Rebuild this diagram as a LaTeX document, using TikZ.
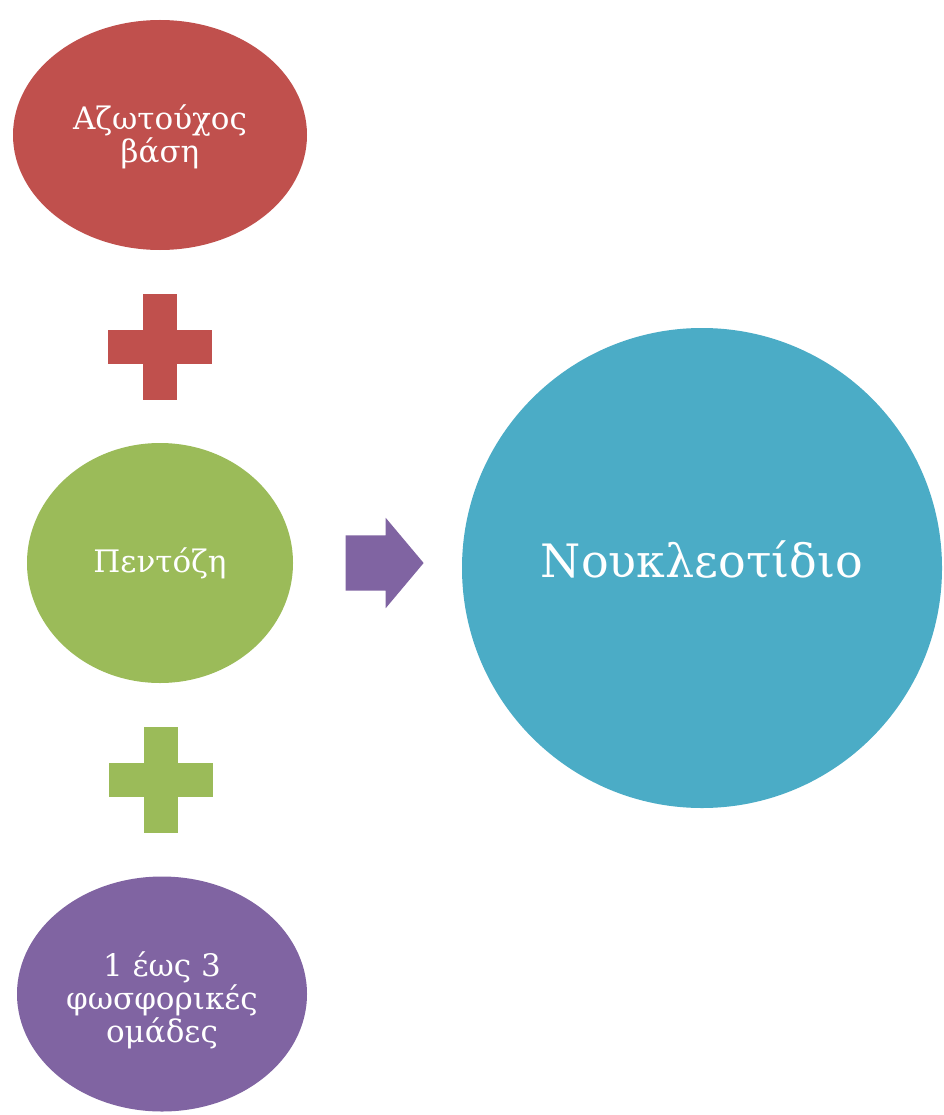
\documentclass[tikz,border=0pt]{standalone}
\usepackage{fontspec}
\setmainfont{DejaVu Serif}
\usepackage{tikz}
\usetikzlibrary{shapes.geometric,shapes.arrows,calc}

\definecolor{basered}{HTML}{C0504D}
\definecolor{sugargreen}{HTML}{9BBB59}
\definecolor{phosviolet}{HTML}{8064A2}
\definecolor{nuclblue}{HTML}{4BACC6}

\begin{document}
\begin{tikzpicture}[
  x=1pt, y=-1pt,
  blob/.style={ellipse, inner sep=0pt},
  caption/.style={align=center, text=white, font=\fontsize{31}{30}\selectfont},
  pics/plussign/.style={code={
    \fill (-52,-17) rectangle (52,17);
    \fill (-17,-53) rectangle (17,53);
  }},
  pointer/.style={single arrow, fill=phosviolet, inner xsep=0pt, inner ysep=27.5pt,
    minimum height=78pt, minimum width=90pt,
    single arrow head extend=17.5pt, single arrow tip angle=100}
]
\path[fill=white, use as bounding box] (0,0) rectangle (943,1115);

\node[blob, fill=basered, minimum width=294pt, minimum height=230pt] (base) at (160,135) {};
\node[caption] (base-text) at ($(base)+(0,2)$) {Αζωτούχος\\βάση};

\node[blob, fill=sugargreen, minimum width=266pt, minimum height=240pt] (pentose) at (160,563) {};
\node[caption] (pentose-text) at (pentose) {Πεντόζη};

\node[blob, fill=phosviolet, minimum width=290pt, minimum height=235pt] (phosphate) at (162,994) {};
\node[caption, font=\fontsize{31}{33}\selectfont] (phosphate-text) at ($(phosphate)+(0,6)$) {1 έως 3\\φωσφορικές\\ομάδες};

\node[circle, fill=nuclblue, minimum size=480pt, inner sep=0pt] (nucleotide) at (702,568) {};
\node[caption, font=\fontsize{46}{50}\selectfont] (nucleotide-text) at ($(nucleotide)+(0,-8)$) {Νουκλεοτίδιο};

\pic[fill=basered] (plus-top) at ($(base.south)!0.5!(pentose.north)$) {plussign};
\pic[fill=sugargreen] (plus-bottom) at ($(pentose.south)!0.5!(phosphate.north)$) {plussign};

\node[pointer] (yields) at (373,563) {};
\end{tikzpicture}
\end{document}
